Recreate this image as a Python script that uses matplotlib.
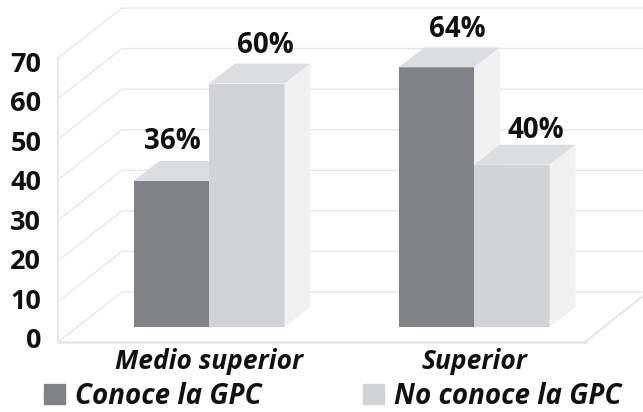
import matplotlib
matplotlib.use('Agg')
import matplotlib.pyplot as plt
from matplotlib.patches import Patch, Polygon

plt.rcParams['font.family'] = ['Open Sans', 'DejaVu Sans']

categories = ['Medio superior', 'Superior']
conoce = [36, 64]
no_conoce = [60, 40]
series_names = ['Conoce la GPC', 'No conoce la GPC']
y_ticks = [0, 10, 20, 30, 40, 50, 60, 70]

# layout, all in data units of the front plane
W, H = 643, 412
PX_X = 265.0   # pixels per category
PX_Y = 284 / 70  # pixels per unit of value
BAR_W = 75.5 / PX_X
BAR_BASE = 15 / PX_Y
DEPTH_X = 26 / PX_X
DEPTH_Y = 20 / PX_Y
WALL_X = 64 / PX_X
WALL_Y = 50 / PX_Y
GRID = '#e8e8e9'
INK = '#111111'

fig = plt.figure(figsize=(W / 100, H / 100), dpi=100)
ax = fig.add_axes([58 / W, (H - 342) / H, 527 / W, 284 / H])
ax.set_xlim(-151 / PX_X, 376 / PX_X)
ax.set_ylim(0, 70)
left, right = ax.get_xlim()
page_right = right + 58 / PX_X


def draw_bar(x, value, color):
    # front face through bar(), top and side faces from the same numbers
    x0, x1 = x - BAR_W / 2, x + BAR_W / 2
    top = BAR_BASE + value
    ax.bar(x, value, BAR_W, bottom=BAR_BASE, color=color, clip_on=False, zorder=3)
    ax.add_patch(Polygon([(x0, top), (x1, top), (x1 + DEPTH_X, top + DEPTH_Y),
                          (x0 + DEPTH_X, top + DEPTH_Y)],
                         color='#dcddde', lw=0, clip_on=False, zorder=3))
    ax.add_patch(Polygon([(x1, BAR_BASE), (x1, top), (x1 + DEPTH_X, top + DEPTH_Y),
                          (x1 + DEPTH_X, BAR_BASE + DEPTH_Y)],
                         color='#f1f1f2', lw=0, clip_on=False, zorder=3))


# back wall and left wall
for v in y_ticks[1:]:
    ax.plot([left, left + WALL_X, page_right], [v, v + WALL_Y, v + WALL_Y],
            color=GRID, lw=1.0, clip_on=False, zorder=1)
ax.plot([left, left + WALL_X, page_right], [0, WALL_Y, WALL_Y],
        color=GRID, lw=1.0, clip_on=False, zorder=1)
ax.plot([left, left], [0, 70], color=GRID, lw=1.4, clip_on=False, zorder=1)
ax.plot([left, right], [0, 0], color=GRID, lw=2, clip_on=False, zorder=1)
ax.plot([right, page_right], [0, 46 / PX_Y], color='#dddddd', lw=1, clip_on=False, zorder=1)

# bars, dark ones first so the light ones sit in front
positions = range(len(categories))
for i in positions:
    draw_bar(i - BAR_W / 2, conoce[i], '#808285')
    draw_bar(i + BAR_W / 2, no_conoce[i], '#d1d3d4')

# value labels, nudged by hand like the original
label_nudge = [(1, 32), (19, 31), (21, 30), (24, 27)]
label_x = [0 - BAR_W / 2, 0 + BAR_W / 2, 1 - BAR_W / 2, 1 + BAR_W / 2]
label_v = [conoce[0], no_conoce[0], conoce[1], no_conoce[1]]
for x, v, (dx, dy) in zip(label_x, label_v, label_nudge):
    ax.annotate(f'{v}%', (x, BAR_BASE + v), xytext=(dx * 0.72, dy * 0.72),
                textcoords='offset points', ha='center', va='baseline',
                fontsize=20, fontweight='bold', color=INK, zorder=4)

for side in ax.spines.values():
    side.set_visible(False)
ax.patch.set_visible(False)
ax.set_yticks([])
ax.set_xticks(list(positions))
ax.set_xticklabels(categories, fontsize=19, fontweight='bold', fontstyle='italic', color=INK)
ax.tick_params(axis='x', length=0, pad=4)

# the y labels sit a little tighter than the grid in the original
tick_ax = fig.add_axes([58 / W, (H - 338) / H, 0.001, 276 / H])
tick_ax.set_ylim(0, 70)
tick_ax.set_xticks([])
tick_ax.set_yticks(y_ticks)
tick_ax.tick_params(axis='y', length=0, pad=12)
tick_ax.patch.set_visible(False)
for side in tick_ax.spines.values():
    side.set_visible(False)
for t in tick_ax.get_yticklabels():
    t.set_fontsize(19.5)
    t.set_fontweight('bold')
    t.set_color(INK)

handles = [Patch(color='#808285'), Patch(color='#d1d3d4')]
fig.legend(handles, series_names, loc='lower left', bbox_to_anchor=(44 / W, 1 / H), ncol=2,
           frameon=False, handlelength=0.75, handleheight=0.75, handletextpad=0.37,
           columnspacing=3.65, borderpad=0, borderaxespad=0,
           prop={'size': 20, 'weight': 'bold', 'style': 'italic'}, labelcolor=INK)

fig.savefig('out.png', dpi=100)
